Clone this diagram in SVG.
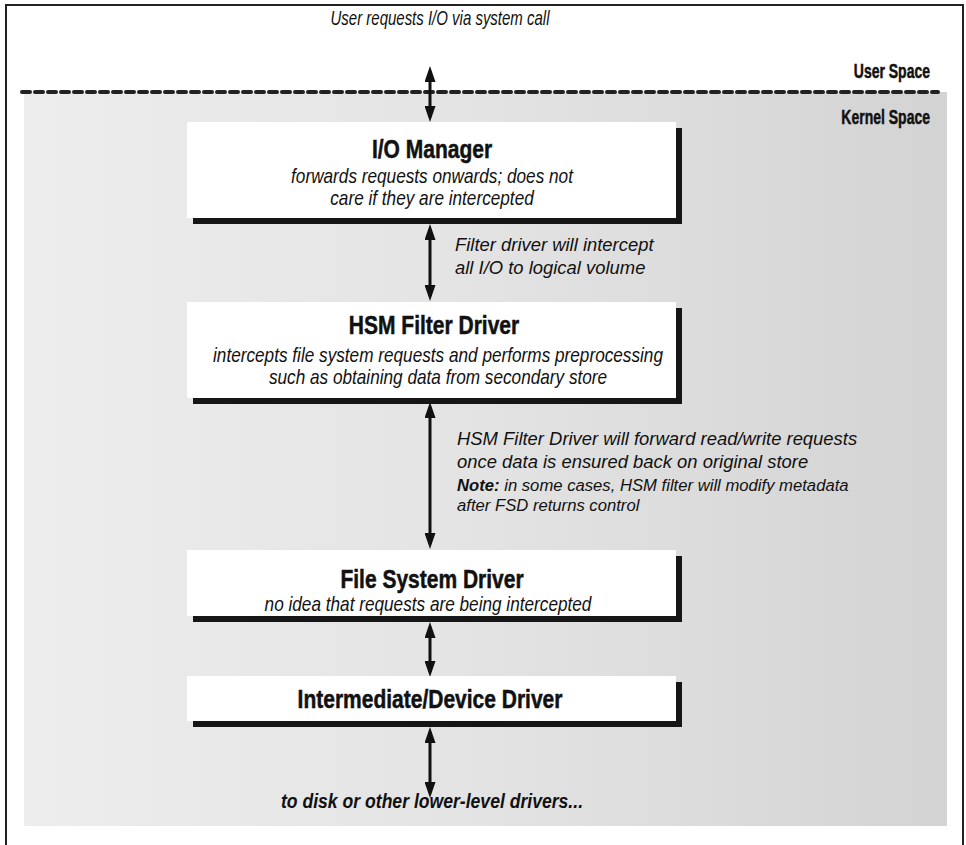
<svg xmlns="http://www.w3.org/2000/svg" width="966" height="845" viewBox="0 0 966 845">
<style>
text{font-family:"Liberation Sans",Arial,sans-serif;fill:#111}
.it{font-style:italic;font-size:20px}
.sl{font-style:italic;font-size:19px}
.nt{font-style:italic;font-size:17px}
.ti{font-weight:bold;font-size:25px;stroke:#111;stroke-width:0.5}
.sp{font-weight:bold;font-size:20px;stroke:#111;stroke-width:0.5}
.c{text-anchor:middle}
.e{text-anchor:end}
.box{fill:#fff}
.sh{fill:#161616}
.ar{stroke:#111;stroke-width:3;fill:none;marker-start:url(#ah);marker-end:url(#ah)}
</style>
<defs>
<linearGradient id="bg" x1="0" y1="0" x2="1" y2="0">
<stop offset="0" stop-color="#ededed"/>
<stop offset="0.5" stop-color="#e3e3e3"/>
<stop offset="1" stop-color="#d3d3d3"/>
</linearGradient>
<marker id="ah" viewBox="0 0 16 11" refX="11" refY="5.5" markerWidth="16" markerHeight="11" orient="auto-start-reverse" markerUnits="userSpaceOnUse">
<path d="M0,0 L16,5.5 L0,11 Z" fill="#111"/>
</marker>
</defs>
<rect width="966" height="845" fill="#fff"/>
<g id="frame">
<path d="M6,845 V5 H963 V845" fill="none" stroke="#222" stroke-width="2"/>
<rect x="24" y="92" width="923" height="734" fill="url(#bg)"/>
<line x1="22" y1="92" x2="938" y2="92" stroke="#222" stroke-width="4" stroke-dasharray="8 5" stroke-linecap="round"/>
</g>
<g id="labels">
<text class="it c" transform="translate(440,25) scale(0.75,1)">User requests I/O via system call</text>
<text class="sp e" transform="translate(930,78) scale(0.7,1)">User Space</text>
<text class="sp e" transform="translate(930,124) scale(0.7,1)">Kernel Space</text>
</g>
<g id="connectors">
<line class="ar" x1="430" y1="71" x2="430" y2="117"/>
<line class="ar" x1="430" y1="229" x2="430" y2="296"/>
<line class="ar" x1="430" y1="407" x2="430" y2="544"/>
<line class="ar" x1="430" y1="627" x2="430" y2="672"/>
<line class="ar" x1="430" y1="732" x2="430" y2="793"/>
</g>
<g id="lbl-filter">
<text class="sl" transform="translate(455,251) scale(0.97,1)">Filter driver will intercept</text>
<text class="sl" transform="translate(455,274) scale(0.97,1)">all I/O to logical volume</text>
</g>
<g id="lbl-hsm">
<text class="sl" transform="translate(457,445) scale(0.97,1)">HSM Filter Driver will forward read/write requests</text>
<text class="sl" transform="translate(457,468) scale(0.97,1)">once data is ensured back on original store</text>
<text class="nt" transform="translate(457,491) scale(0.98,1)"><tspan font-weight="bold">Note:</tspan> in some cases, HSM filter will modify metadata</text>
<text class="nt" transform="translate(457,511) scale(0.98,1)">after FSD returns control</text>
</g>
<g id="io-manager">
<rect class="sh" x="193" y="128" width="489" height="96"/>
<rect class="box" x="187" y="122" width="489" height="96"/>
<text class="ti c" transform="translate(432,158) scale(0.84,1)">I/O Manager</text>
<text class="it c" transform="translate(432,183) scale(0.86,1)">forwards requests onwards; does not</text>
<text class="it c" transform="translate(432,205) scale(0.86,1)">care if they are intercepted</text>
</g>
<g id="hsm-filter">
<rect class="sh" x="193" y="308" width="489" height="96"/>
<rect class="box" x="187" y="302" width="489" height="96"/>
<text class="ti c" transform="translate(434,334) scale(0.84,1)">HSM Filter Driver</text>
<text class="it c" transform="translate(438,362) scale(0.86,1)">intercepts file system requests and performs preprocessing</text>
<text class="it c" transform="translate(438,384) scale(0.86,1)">such as obtaining data from secondary store</text>
</g>
<g id="fsd">
<rect class="sh" x="193" y="556" width="489" height="66"/>
<rect class="box" x="187" y="550" width="489" height="66"/>
<text class="ti c" transform="translate(432,588) scale(0.84,1)">File System Driver</text>
<text class="it c" transform="translate(428,611) scale(0.86,1)">no idea that requests are being intercepted</text>
</g>
<g id="device-driver">
<rect class="sh" x="193" y="682" width="489" height="45"/>
<rect class="box" x="187" y="676" width="489" height="45"/>
<text class="ti c" transform="translate(430,708) scale(0.84,1)">Intermediate/Device Driver</text>
</g>
<g id="bottom-label">
<text class="it c" transform="translate(432,808) scale(0.88,1)" font-weight="bold">to disk or other lower-level drivers...</text>
</g>
</svg>
